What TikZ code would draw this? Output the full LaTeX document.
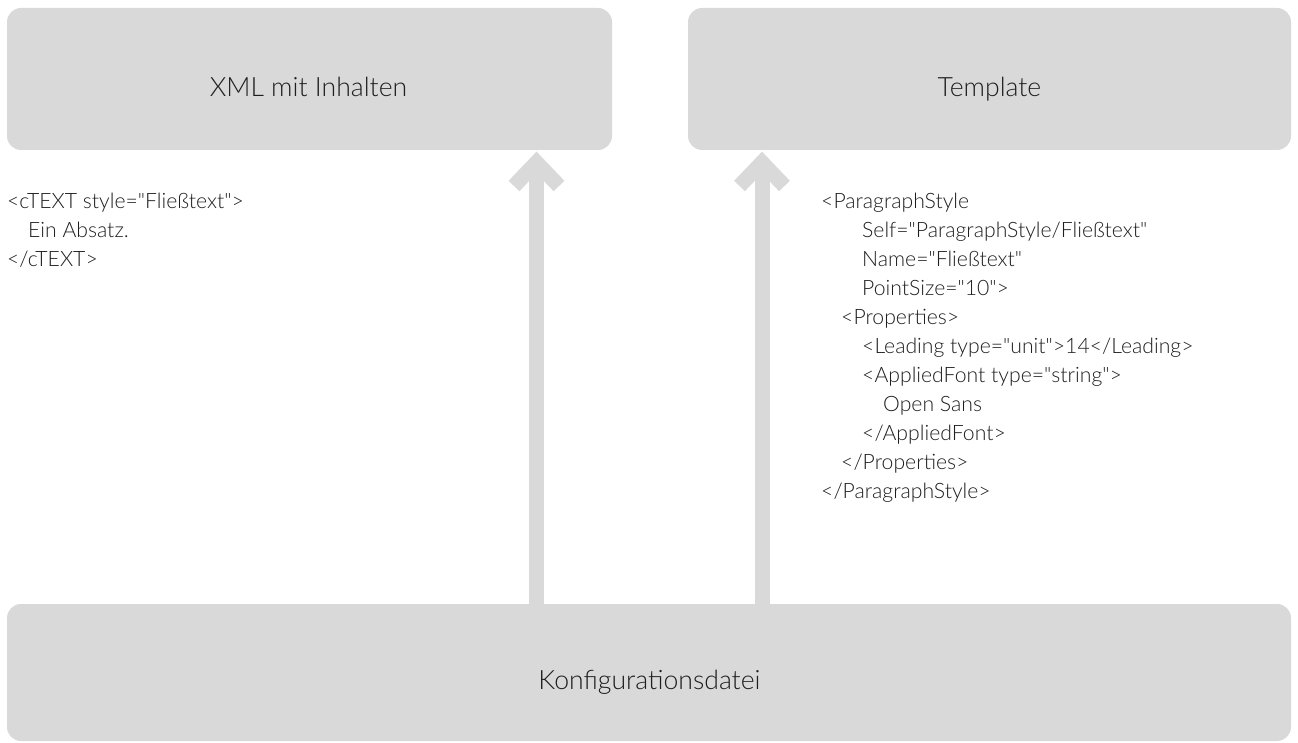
\documentclass[tikz,border=0pt]{standalone}
\usepackage{fontspec}
\setmainfont{Lato Light}[Ligatures=TeXOff]
\usetikzlibrary{calc}
\definecolor{boxgray}{HTML}{D9D9D9}
\definecolor{txt}{HTML}{1E1E1E}
\tikzset{
  box/.style={fill=boxgray, rounded corners=14pt, draw=none, inner sep=0pt},
  title/.style={font=\fontsize{26.6}{30}\selectfont, text=txt, anchor=base, inner sep=0pt},
  code/.style={font=\fontsize{21.2}{25}\selectfont, text=txt, anchor=base west, inner sep=0pt},
  shaft/.style={boxgray, line width=15pt},
  chevron/.style={boxgray, line width=15pt, miter limit=10, line join=miter, line cap=butt}
}
\begin{document}
\begin{tikzpicture}[x=1pt,y=1pt]
\useasboundingbox (0,0) rectangle (1298,742);
% boxes (y = 742 - pixel y)
\path[box] (7,592) rectangle (612,734); \node[inner sep=0] (xml) at (309.5,663) {};
\path[box] (688,592) rectangle (1291,734); \node[inner sep=0] (tpl) at (989.5,663) {};
\path[box] (7,1) rectangle (1291,138); \node[inner sep=0] (konf) at (649,69) {};
\coordinate (xmlb) at (536.5,591);
\coordinate (tplb) at (762,591);
\coordinate (konft1) at (536.5,138);
\coordinate (konft2) at (762,138);
% arrows
\draw[shaft] (konft1) -- ($(xmlb)+(0,-12)$);
\draw[chevron] ($(xmlb)+(-22.5,-35)$) -- ($(xmlb)+(0,-11.5)$) -- ($(xmlb)+(22.5,-35)$);
\draw[shaft] (konft2) -- ($(tplb)+(0,-12)$);
\draw[chevron] ($(tplb)+(-22.5,-35)$) -- ($(tplb)+(0,-11.5)$) -- ($(tplb)+(22.5,-35)$);
% titles
\node[title] (xmlt) at (308.5,645) {XML mit Inhalten};
\node[title] (tplt) at (989.5,645) {Template};
\node[title] (konft) at (649.5,53) {Konfigurationsdatei};
% left code
\node[code] (l1) at (7,533.5) {<cTEXT style="Fließtext">};
\node[code] (l2) at (28,504.5) {Ein Absatz.};
\node[code] (l3) at (7,475.5) {</cTEXT>};
% right code
\node[code] (r1) at (821,533.5) {<ParagraphStyle};
\node[code] (r2) at (862,504.5) {Self="ParagraphStyle/Fließtext"};
\node[code] (r3) at (862,475.5) {Name="Fließtext"};
\node[code] (r4) at (862,446.5) {PointSize="10">};
\node[code] (r5) at (841,417.5) {<Properties>};
\node[code] (r6) at (862,388.5) {<Leading type="unit">14</Leading>};
\node[code] (r7) at (862,359.5) {<AppliedFont type="string">};
\node[code] (r8) at (883,330.5) {Open Sans};
\node[code] (r9) at (862,301.5) {</AppliedFont>};
\node[code] (r10) at (841,272.5) {</Properties>};
\node[code] (r11) at (821,243.5) {</ParagraphStyle>};
\end{tikzpicture}
\end{document}
